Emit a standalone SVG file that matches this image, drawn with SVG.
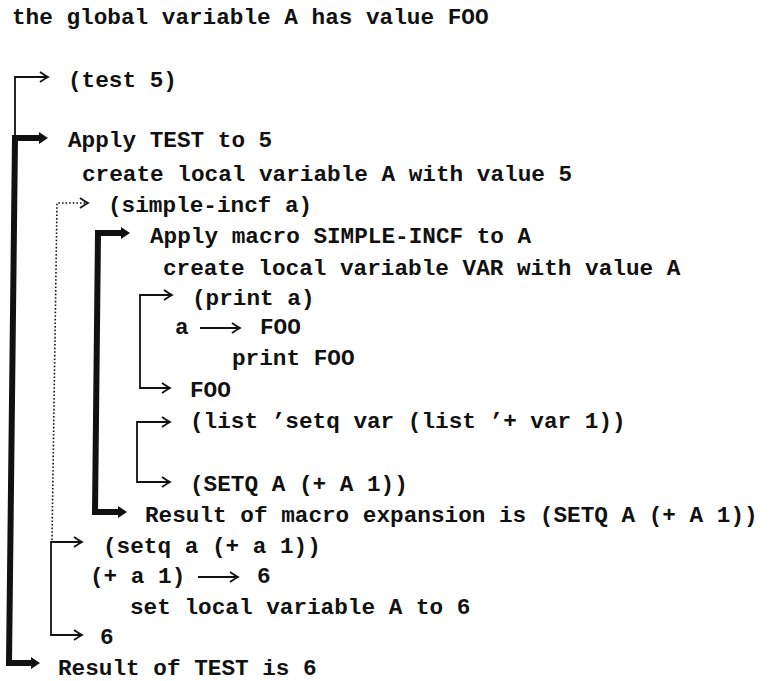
<svg xmlns="http://www.w3.org/2000/svg" width="773" height="681" viewBox="0 0 773 681">
<defs>
<style>
text{font-family:"Liberation Mono","DejaVu Sans Mono",monospace;font-size:22.7px;font-weight:bold;fill:#111;white-space:pre}
.thin{fill:none;stroke:#111;stroke-width:1.8}
.thick{fill:none;stroke:#111;stroke-width:6;stroke-linejoin:miter}
.dot{fill:none;stroke:#111;stroke-width:1.6;stroke-dasharray:1.6 2}
</style>
<marker id="ah" markerUnits="userSpaceOnUse" orient="auto-start-reverse" markerWidth="12" markerHeight="14" viewBox="-10 -7 12 14" refX="0" refY="0">
<path d="M-8,-5 Q-3,-1.5 0,0 Q-3,1.5 -8,5" fill="none" stroke="#111" stroke-width="1.8"/>
</marker>
<marker id="ahT" markerUnits="userSpaceOnUse" orient="auto-start-reverse" markerWidth="14" markerHeight="16" viewBox="-1 -8 14 16" refX="0" refY="0">
<path d="M0,-3 L2,-3 L2,-6 L11,0 L2,6 L2,3 L0,3 Z" fill="#111"/>
</marker>
</defs>
<g id="connectors">
<path class="thin" d="M15,138 V77 H48" marker-end="url(#ah)"/>
<path class="thick" d="M37,138 H15 L9,663 H29" marker-start="url(#ahT)" marker-end="url(#ahT)"/>
<path class="dot" d="M52,540 L57,203 H88" marker-end="url(#ah)"/>
<path class="thick" d="M119,233 H98 L95,512 H116" marker-start="url(#ahT)" marker-end="url(#ahT)"/>
<path class="thin" d="M172,295 H140 V388 H170" marker-start="url(#ah)" marker-end="url(#ah)"/>
<path class="thin" d="M170,422 H137 V482 H170" marker-start="url(#ah)" marker-end="url(#ah)"/>
<path class="thin" d="M82,542 H51 V635 H82" marker-start="url(#ah)" marker-end="url(#ah)"/>
<path class="thin" d="M200,328 H240" marker-end="url(#ah)"/>
<path class="thin" d="M198,577 H238" marker-end="url(#ah)"/>
</g>
<g id="n-title"><text x="12" y="24">the global variable A has value FOO</text></g>
<g id="n-test5"><text x="68" y="87">(test 5)</text></g>
<g id="n-apply-test"><text x="68" y="147">Apply TEST to 5</text></g>
<g id="n-create-a"><text x="82" y="181">create local variable A with value 5</text></g>
<g id="n-simple-incf"><text x="108" y="212">(simple-incf a)</text></g>
<g id="n-apply-macro"><text x="150" y="243">Apply macro SIMPLE-INCF to A</text></g>
<g id="n-create-var"><text x="163" y="275">create local variable VAR with value A</text></g>
<g id="n-print-a"><text x="192" y="305">(print a)</text></g>
<g id="n-a-foo"><text x="175" y="334">a</text><text x="260" y="334">FOO</text></g>
<g id="n-print-foo"><text x="232" y="365">print FOO</text></g>
<g id="n-foo"><text x="190" y="397">FOO</text></g>
<g id="n-list"><text x="190" y="428">(list ’setq var (list ’+ var 1))</text></g>
<g id="n-setq-upper"><text x="190" y="491">(SETQ A (+ A 1))</text></g>
<g id="n-result-macro"><text x="145" y="522">Result of macro expansion is (SETQ A (+ A 1))</text></g>
<g id="n-setq-lower"><text x="103" y="553">(setq a (+ a 1))</text></g>
<g id="n-plus"><text x="90" y="583">(+ a 1)</text><text x="257" y="583">6</text></g>
<g id="n-set-local"><text x="130" y="614">set local variable A to 6</text></g>
<g id="n-six"><text x="100" y="644">6</text></g>
<g id="n-result-test"><text x="58" y="675">Result of TEST is 6</text></g>
</svg>
